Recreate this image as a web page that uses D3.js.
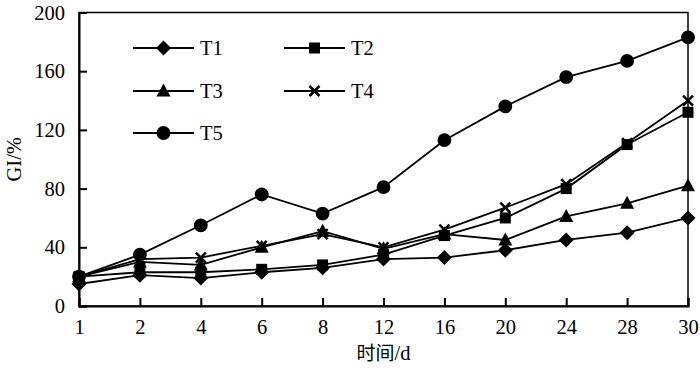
<!DOCTYPE html>
<html>
<head>
<meta charset="utf-8">
<script src="https://cdn.jsdelivr.net/npm/d3@7"></script>
<style>
  body { margin: 0; background: #fff; }
  svg text { font-family: "Liberation Serif", "DejaVu Serif", serif; fill: #000; }
</style>
</head>
<body>
<div id="chart"></div>
<script>
const days = ["1", "2", "4", "6", "8", "12", "16", "20", "24", "28", "30"];
const yTicks = [0, 40, 80, 120, 160, 200];

const t1 = [15, 21, 19, 23, 26, 32, 33, 38, 45, 50, 60];
const t2 = [20, 23, 23, 25, 28, 35, 48, 60, 80, 110, 132];
const t3 = [20, 30, 28, 40, 51, 39, 49, 45, 61, 70, 82];
const t4 = [20, 32, 33, 41, 49, 40, 52, 67, 83, 111, 140];
const t5 = [20, 35, 55, 76, 63, 81, 113, 136, 156, 167, 183];

const series = [
  { name: "T1", values: t1, shape: "diamond" },
  { name: "T2", values: t2, shape: "square" },
  { name: "T3", values: t3, shape: "triangle" },
  { name: "T4", values: t4, shape: "cross" },
  { name: "T5", values: t5, shape: "circle" }
];

const width = 700, height = 368;
const margin = { top: 12.5, right: 12, bottom: 62, left: 79 };
const w = width - margin.left - margin.right;
const h = height - margin.top - margin.bottom;
const fontSize = "20.5px";

const svg = d3.select("#chart").append("svg")
  .attr("width", width)
  .attr("height", height);

const g = svg.append("g")
  .attr("transform", "translate(" + margin.left + "," + margin.top + ")");

const x = d3.scalePoint().domain(days).range([0, w]).padding(0);
const y = d3.scaleLinear().domain([0, 200]).range([h, 0]);

// marker path builders
function marker(shape) {
  switch (shape) {
    case "diamond": return "M0,-7.5L7.5,0L0,7.5L-7.5,0Z";
    case "square": return "M-5.5,-5.5H5.5V5.5H-5.5Z";
    case "triangle": return "M0,-7.5L7,5.5H-7Z";
    case "circle": return d3.symbol(d3.symbolCircle, 150)();
    case "cross": return "M-5,-5L5,5M-5,5L5,-5";
  }
}
function drawMarker(sel, shape) {
  sel.append("path")
    .attr("d", marker(shape))
    .attr("fill", shape === "cross" ? "none" : "#000")
    .attr("stroke", "#000")
    .attr("stroke-width", shape === "cross" ? 2.5 : 0);
}

// frame
g.append("rect")
  .attr("width", w).attr("height", h)
  .attr("fill", "none").attr("stroke", "#000").attr("stroke-width", 1.5);

// y axis
const yAxis = g.append("g")
  .call(d3.axisLeft(y).tickValues(yTicks).tickSize(-8).tickPadding(14));
yAxis.select(".domain").attr("stroke-width", 2);
yAxis.selectAll(".tick line").attr("stroke-width", 2);
yAxis.selectAll("text").style("font-size", fontSize);

// x axis
const xAxis = g.append("g")
  .attr("transform", "translate(0," + h + ")")
  .call(d3.axisBottom(x).tickSize(-8).tickPadding(13));
xAxis.select(".domain").attr("stroke-width", 2);
xAxis.selectAll(".tick line").attr("stroke-width", 2);
xAxis.selectAll("text").style("font-size", fontSize);

// axis titles
const xt = svg.append("text")
  .attr("x", margin.left + w / 2)
  .attr("y", 360)
  .attr("text-anchor", "middle")
  .style("font-size", fontSize);
xt.append("tspan")
  .style("font-family", "'Noto Sans CJK SC', serif")
  .style("font-size", "19px")
  .text("时间");
xt.append("tspan").text("/d");

svg.append("text")
  .attr("transform", "translate(21," + (margin.top + h / 2) + ") rotate(-90)")
  .attr("text-anchor", "middle")
  .style("font-size", fontSize)
  .text("GI/%");

// lines
const line = d3.line()
  .x((d, i) => x(days[i]))
  .y(d => y(d));

series.forEach(s => {
  g.append("path")
    .datum(s.values)
    .attr("fill", "none")
    .attr("stroke", "#000")
    .attr("stroke-width", 1.8)
    .attr("d", line);
});

series.forEach(s => {
  g.selectAll(null)
    .data(s.values)
    .enter()
    .append("g")
    .attr("transform", (d, i) => "translate(" + x(days[i]) + "," + y(d) + ")")
    .each(function () { drawMarker(d3.select(this), s.shape); });
});

// legend
const legendPos = [
  [133, 48], [284, 48],
  [133, 91], [284, 91],
  [133, 133]
];
series.forEach((s, i) => {
  const lg = svg.append("g")
    .attr("transform", "translate(" + legendPos[i][0] + "," + legendPos[i][1] + ")");
  lg.append("line")
    .attr("x1", 0).attr("x2", 61)
    .attr("stroke", "#000").attr("stroke-width", 1.8);
  const mk = lg.append("g").attr("transform", "translate(30.5,0)");
  drawMarker(mk, s.shape);
  lg.append("text")
    .attr("x", 67).attr("y", 7)
    .style("font-size", fontSize)
    .text(s.name);
});
</script>
</body>
</html>
